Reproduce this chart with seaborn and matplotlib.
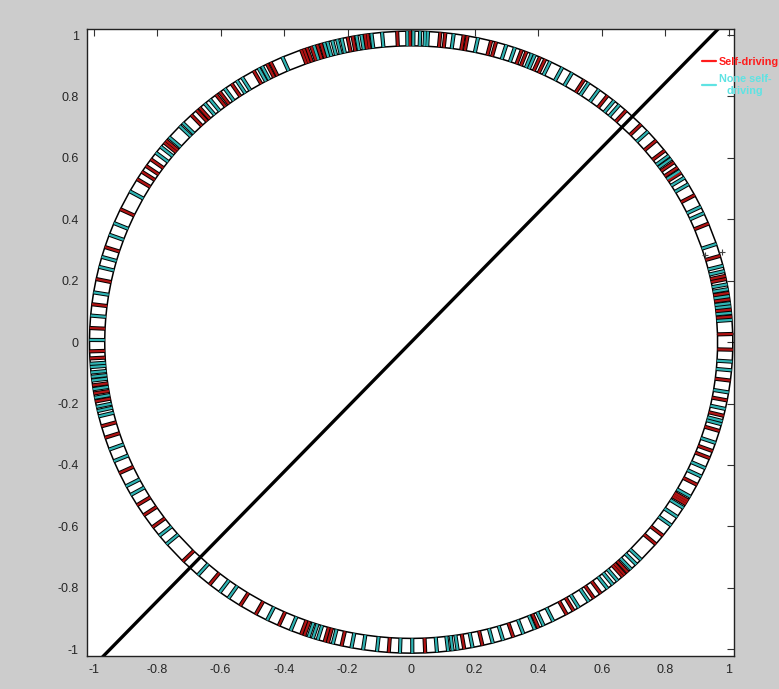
import matplotlib
matplotlib.use("Agg")
import matplotlib.pyplot as plt
from matplotlib.collections import LineCollection
from matplotlib.lines import Line2D
import numpy as np
import pandas as pd
import seaborn as sns

# ring position (degrees) of each vehicle
self_driving_deg = [
    1.5, 4.7, 6, 7.9, 9.1, 11.7, 12.3, 16.1, 22.4, 28.2,
    33, 34.1, 35.3, 38, 40.4, 44.4, 48.1, 52.4, 57.5, 65.4, 66.4, 69, 69.9,
    74.7, 75.6, 79.9, 80.6, 83.9, 84.8, 90.2, 92.5, 97.8, 98.3, 100.5, 101.4,
    106.3, 107, 108.1, 108.9, 109.5, 110,
    115.9, 116.6, 119.3, 123.9, 126.5, 127.3, 131.1, 131.8, 133.1, 139.6, 140.1,
    144, 145.5, 146.8, 148.4, 154.7, 162.2, 168.3, 173, 177.4,
    181.7, 183, 188, 189.5, 191, 195.7, 197.9, 204.9, 211.6, 213.8, 216.5,
    224.8, 231.2, 237.9, 241.1, 245.7, 250, 250.6, 254.4, 255, 257.5, 266,
    272.5, 279.5, 282.8, 288.5, 293.3, 298.9, 300.3, 304.6, 306.1, 311.1,
    311.6, 312.3, 319.5, 321.5, 328.6, 329.0, 329.4, 332.7, 338.1, 339.5,
    343.4, 346.3, 349.2, 352.9, 358.6,
]
none_self_driving_deg = [
    4.1, 5.4, 6.6, 7.2, 8.5, 9.8, 10.7, 13.2, 14.2, 18.4, 24.5, 25.8, 30.5, 31.9,
    33.4, 36.1, 36.8, 42.6, 49.7, 50.9, 54.3, 56.5, 60, 62, 64.4, 67.4, 68,
    71.2, 72.8, 78, 82.4, 87, 87.5, 88.4, 89.6, 90.7, 95.2, 97.1, 98.9, 99.8,
    102.5, 103.3, 104.2, 105.1, 105.7, 107.6,
    113.6, 117.6, 118.3, 121.7, 122.8, 125.4, 128.7, 129.9, 135.2, 136, 138.8,
    141.1, 142.5, 151, 157.5, 159.8, 164.1, 166, 170.8, 175.1, 179.6,
    184, 184.6, 185.6, 186.4, 187.1, 188.7, 190.3, 192, 192.8, 193.8, 200.2,
    202.5, 207.6, 209.4, 218.5, 220.5, 228.5, 233.5, 235.4, 243.4, 248, 251.4,
    252.2, 253.1, 255.9, 259.3, 261.4, 263.9, 268, 270.2,
    274.6, 276.6, 277.4, 278.3, 281, 284.7, 286.6, 290.4, 292.6, 294.3, 296.2,
    301.4, 303.5, 307.6, 308.8, 309.9, 313.1, 314.4, 315.6, 323.9, 325.8,
    327.8, 330.2, 334.4, 336.1, 341.1, 344.7, 345.3, 347.6, 350.7, 354.8, 356.4,
]
labels = ["Self-driving", "None self-\ndriving"]

# separating line
diag_x = [-1.0, 1.0]
diag_y = [-1.055, 1.055]

# two stray markers near the right of the ring
mark_x = [0.925, 0.978]
mark_y = [0.283, 0.293]

tick_vals = [-1, -0.8, -0.6, -0.4, -0.2, 0, 0.2, 0.4, 0.6, 0.8, 1]
tick_text = ["-1", "-0.8", "-0.6", "-0.4", "-0.2", "0", "0.2", "0.4", "0.6", "0.8", "1"]

R_IN, R_OUT = 0.965, 1.013
RED, TEAL = "#b01414", "#2fb3b3"
LEG_RED, LEG_CYAN = "#ff1c1c", "#5fe3e3"

sns.set_theme(style="white")
plt.rcParams["font.family"] = ["Liberation Sans", "DejaVu Sans"]

df = pd.DataFrame({
    "angle": self_driving_deg + none_self_driving_deg,
    "kind": [labels[0]] * len(self_driving_deg) + [labels[1]] * len(none_self_driving_deg),
})
df["t"] = np.deg2rad(df["angle"])

fig = plt.figure(figsize=(7.79, 6.89), dpi=100, facecolor="#cccccc")
ax = fig.add_axes([0.112, 0.048, 0.830, 0.910])
ax.set_facecolor("white")

# inner / outer outline of the ring through every vehicle
ring = df.sort_values("t")
ring = pd.concat([ring, ring.iloc[:1]])
for r in (R_IN, R_OUT):
    sns.lineplot(x=(r * np.cos(ring["t"])).values, y=(r * np.sin(ring["t"])).values,
                 sort=False, estimator=None, color="black", lw=1.1, ax=ax)


def segs(t):
    return [[(R_IN * np.cos(a), R_IN * np.sin(a)), (R_OUT * np.cos(a), R_OUT * np.sin(a))] for a in t]


ax.add_collection(LineCollection(segs(df["t"]), colors="black", linewidths=3.0))
for kind, color in ((labels[0], RED), (labels[1], TEAL)):
    sub = df[df["kind"] == kind]
    ax.add_collection(LineCollection(segs(sub["t"]), colors=color, linewidths=1.6))

sns.lineplot(x=diag_x, y=diag_y, color="black", lw=2.4, ax=ax)
ax.plot(mark_x, mark_y, "+", color="#444444", ms=5, mew=0.8)

ax.set_xlim(-1.02, 1.016)
ax.set_ylim(-1.022, 1.02)
ax.set_xticks(tick_vals, tick_text)
ax.set_yticks(tick_vals, tick_text)
ax.tick_params(direction="in", length=5, width=0.8, top=True, right=True,
               labelsize=9, labelcolor="#262626", color="#333333", pad=6)
for s in ax.spines.values():
    s.set_color("#222222")
    s.set_linewidth(1.0)
ax.set_xlabel("")
ax.set_ylabel("")

handles = [Line2D([], [], color=LEG_RED, lw=1.6), Line2D([], [], color=LEG_CYAN, lw=1.6)]
leg = ax.legend(handles, labels, loc="upper left", bbox_to_anchor=(0.951, 0.955),
                frameon=False, labelcolor=[LEG_RED, LEG_CYAN],
                prop={"weight": "bold", "size": 7.8}, handlelength=1.3,
                handletextpad=0.25, borderpad=0, borderaxespad=0, labelspacing=0.6)
leg.get_texts()[1].set_multialignment("center")
leg.get_texts()[1].set_linespacing(1.35)

plt.savefig("out.png", dpi=100, facecolor=fig.get_facecolor())
plt.close()
